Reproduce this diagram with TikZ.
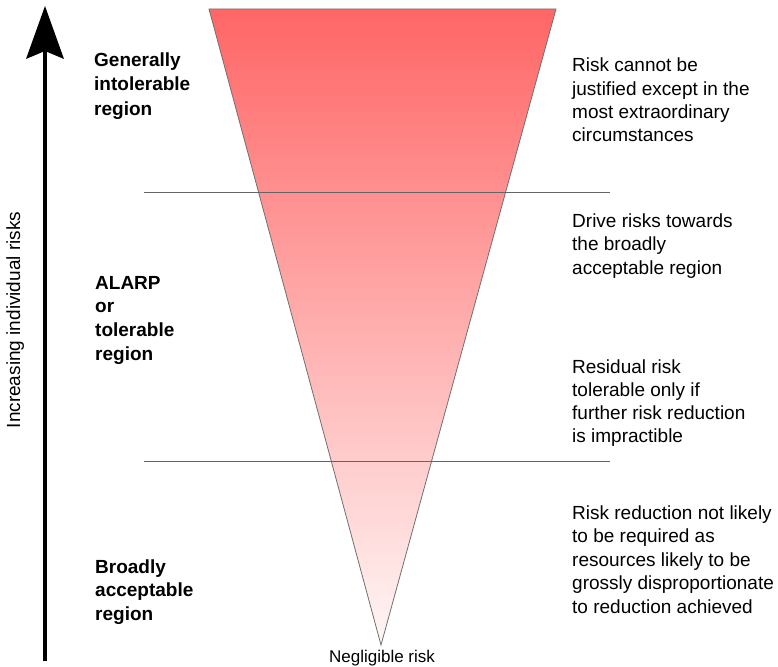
\documentclass[tikz,border=0pt]{standalone}
\usepackage{fontspec}
\setmainfont{Liberation Sans}
\definecolor{riskTop}{RGB}{255,102,102}
\definecolor{riskBot}{RGB}{255,246,246}
\definecolor{triEdge}{RGB}{112,112,112}
\definecolor{sepLine}{RGB}{100,100,100}
\begin{document}
\begin{tikzpicture}[x=1pt,y=-1pt,
  lbl/.style={font=\fontsize{19}{23}\selectfont\bfseries, anchor=base west, inner sep=0pt},
  desc/.style={font=\fontsize{19}{23}\selectfont, anchor=base west, inner sep=0pt},
  smalltxt/.style={font=\fontsize{17}{20}\selectfont, inner sep=0pt},
  sidetxt/.style={font=\fontsize{19}{23}\selectfont, inner sep=0pt},
  sepline/.style={draw=sepLine, line width=1pt}]
\useasboundingbox (0,0) rectangle (778,666);
% triangle
\coordinate (tl) at (209,9);
\coordinate (tr) at (556,9);
\coordinate (ap) at (381,645);
\shade[top color=riskTop, bottom color=riskBot] (tl) -- (tr) -- (ap) -- cycle;
\draw[triEdge, line width=0.8pt] (tl) -- (tr) -- (ap) -- cycle;
% separator lines
\coordinate (s1a) at (144,192); \coordinate (s1b) at (610,192);
\coordinate (s2a) at (144,461); \coordinate (s2b) at (610,461);
\draw[sepline] (s1a) -- (s1b);
\draw[sepline] (s2a) -- (s2b);
% arrow
\coordinate (arrBot) at (45,661);
\coordinate (arrTop) at (45,46);
\draw[line width=4.7pt] (arrBot) -- (arrTop);
\fill (45,6) -- (64,59) -- (45,51) -- (26,59) -- cycle;
% rotated label
\node[sidetxt, rotate=90, anchor=base] (inc) at (20,320) {Increasing individual risks};
\node[smalltxt, anchor=base] (neg) at (382,662) {Negligible risk};
% left labels
\foreach \t [count=\i from 0] in {Generally,intolerable,region}
  \node[lbl] (gen\i) at (94,{67+24*\i}) {\t};
\foreach \t [count=\i from 0] in {ALARP,or,tolerable,region}
  \node[lbl] (alarp\i) at (95,{289+23.7*\i}) {\t};
\foreach \t [count=\i from 0] in {Broadly,acceptable,region}
  \node[lbl] (broad\i) at (95,{573+23.5*\i}) {\t};
% right descriptions
\foreach \t [count=\i from 0] in {Risk cannot be,justified except in the,most extraordinary,circumstances}
  \node[desc] (ra\i) at (572,{72+23.3*\i}) {\t};
\foreach \t [count=\i from 0] in {Drive risks towards,the broadly,acceptable region}
  \node[desc] (rb\i) at (572,{227+23.5*\i}) {\t};
\foreach \t [count=\i from 0] in {Residual risk,tolerable only if,further risk reduction,is impractible}
  \node[desc] (rc\i) at (572,{373+23*\i}) {\t};
\foreach \t [count=\i from 0] in {Risk reduction not likely,to be required as,resources likely to be,grossly disproportionate,to reduction achieved}
  \node[desc] (rd\i) at (572,{519+23.5*\i}) {\t};
\end{tikzpicture}
\end{document}
